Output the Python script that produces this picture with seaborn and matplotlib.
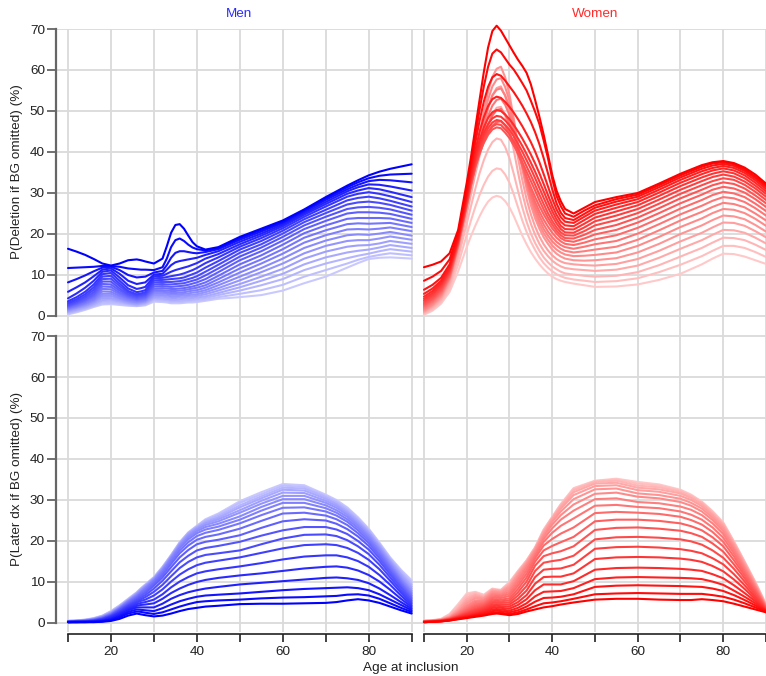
import numpy as np
import pandas as pd
import matplotlib
matplotlib.use("Agg")
import matplotlib.pyplot as plt
import seaborn as sns

sns.set_style("white")
plt.rcParams["font.family"] = ["Liberation Sans", "DejaVu Sans"]

n_curves = 20  # curve 0 = darkest ... curve 19 = lightest

# ---- Men, P(Deletion if BG omitted) (%): one row per age, one value per curve
men_deletion_ages = [10, 12, 14, 16, 18, 20, 22, 24, 26, 27, 28, 30, 32, 33, 34, 35, 36, 37,
                     38, 39, 40, 42, 45, 50, 55, 60, 65, 70, 75, 77.5, 80, 82.5, 85, 90]
men_deletion = [
    [16.4, 11.7, 8.2, 5.9, 4.3, 3.6, 3.2, 2.9, 2.6, 2.4, 2.2, 2.0, 1.8, 1.6, 1.4, 1.2, 1.0, 0.8, 0.6, 0.4],
    [15.7, 11.8, 9.0, 7.0, 5.5, 4.6, 4.1, 3.7, 3.4, 3.1, 2.9, 2.6, 2.4, 2.2, 2.0, 1.8, 1.5, 1.3, 1.1, 0.9],
    [14.9, 11.9, 9.9, 8.2, 6.9, 5.9, 5.3, 4.8, 4.4, 4.0, 3.7, 3.4, 3.1, 2.9, 2.6, 2.4, 2.1, 1.9, 1.7, 1.5],
    [13.9, 12.0, 10.9, 9.7, 8.6, 7.7, 7.0, 6.4, 5.8, 5.3, 4.9, 4.5, 4.1, 3.8, 3.5, 3.2, 2.9, 2.6, 2.4, 2.2],
    [12.8, 12.2, 11.8, 11.3, 10.8, 10.2, 9.6, 9.0, 8.4, 7.8, 7.2, 6.6, 6.0, 5.4, 4.9, 4.4, 3.9, 3.5, 3.1, 2.8],
    [12.3, 12.2, 12.0, 11.6, 11.1, 10.5, 9.8, 9.1, 8.4, 7.7, 7.1, 6.5, 5.9, 5.4, 4.9, 4.4, 4.0, 3.6, 3.2, 2.9],
    [12.8, 12.0, 11.2, 10.3, 9.4, 8.6, 7.9, 7.3, 6.7, 6.2, 5.7, 5.3, 4.9, 4.5, 4.2, 3.9, 3.6, 3.3, 3.0, 2.7],
    [13.6, 11.6, 10.0, 8.6, 7.5, 6.7, 6.1, 5.7, 5.3, 5.0, 4.7, 4.4, 4.1, 3.8, 3.6, 3.3, 3.1, 2.9, 2.7, 2.5],
    [13.8, 11.4, 9.4, 7.8, 6.6, 5.8, 5.3, 5.0, 4.7, 4.4, 4.1, 3.9, 3.7, 3.4, 3.2, 3.0, 2.8, 2.6, 2.5, 2.4],
    [13.6, 11.3, 9.5, 8.0, 6.8, 6.0, 5.5, 5.2, 4.9, 4.6, 4.3, 4.1, 3.8, 3.6, 3.4, 3.2, 3.0, 2.8, 2.6, 2.5],
    [13.3, 11.3, 9.6, 8.2, 7.1, 6.3, 5.8, 5.4, 5.1, 4.8, 4.5, 4.3, 4.0, 3.8, 3.6, 3.4, 3.2, 3.0, 2.8, 2.6],
    [12.8, 11.2, 10.6, 10.1, 9.7, 9.2, 8.7, 8.2, 7.7, 7.2, 6.7, 6.3, 5.9, 5.5, 5.1, 4.7, 4.4, 4.1, 3.8, 3.5],
    [14.0, 11.9, 11.0, 10.3, 9.8, 9.3, 8.8, 8.3, 7.8, 7.3, 6.8, 6.3, 5.9, 5.5, 5.1, 4.7, 4.3, 4.0, 3.7, 3.4],
    [17.0, 14.0, 12.4, 11.3, 10.3, 9.5, 8.9, 8.3, 7.7, 7.2, 6.7, 6.2, 5.8, 5.4, 5.0, 4.6, 4.2, 3.9, 3.6, 3.3],
    [20.3, 16.8, 14.2, 12.4, 10.8, 9.7, 9.0, 8.3, 7.7, 7.1, 6.6, 6.1, 5.6, 5.2, 4.8, 4.4, 4.0, 3.7, 3.4, 3.1],
    [22.2, 18.5, 15.4, 13.1, 11.2, 9.9, 9.1, 8.4, 7.8, 7.2, 6.6, 6.1, 5.6, 5.2, 4.8, 4.4, 4.0, 3.7, 3.4, 3.1],
    [22.4, 18.9, 15.8, 13.4, 11.5, 10.1, 9.2, 8.5, 7.9, 7.3, 6.7, 6.2, 5.7, 5.3, 4.9, 4.5, 4.1, 3.7, 3.4, 3.1],
    [21.3, 18.3, 15.8, 13.6, 11.8, 10.4, 9.4, 8.7, 8.0, 7.4, 6.8, 6.3, 5.8, 5.4, 5.0, 4.6, 4.2, 3.8, 3.5, 3.2],
    [19.6, 17.4, 15.6, 13.8, 12.1, 10.8, 9.8, 9.0, 8.3, 7.6, 7.0, 6.5, 6.0, 5.5, 5.1, 4.7, 4.3, 3.9, 3.6, 3.3],
    [18.0, 16.7, 15.4, 14.0, 12.5, 11.2, 10.2, 9.3, 8.6, 7.9, 7.2, 6.7, 6.2, 5.7, 5.2, 4.8, 4.4, 4.0, 3.7, 3.3],
    [17.0, 16.3, 15.3, 14.2, 12.9, 11.7, 10.6, 9.7, 8.9, 8.2, 7.5, 6.9, 6.3, 5.8, 5.3, 4.9, 4.5, 4.1, 3.7, 3.4],
    [16.2, 16.0, 15.6, 14.9, 14.0, 12.9, 11.8, 10.8, 9.9, 9.0, 8.2, 7.5, 6.9, 6.3, 5.8, 5.3, 4.8, 4.4, 4.0, 3.7],
    [16.8, 16.6, 16.3, 15.8, 15.1, 14.3, 13.4, 12.5, 11.6, 10.7, 9.8, 9.0, 8.2, 7.5, 6.8, 6.2, 5.6, 5.1, 4.6, 4.2],
    [19.3, 19.0, 18.6, 18.1, 17.5, 16.9, 16.2, 15.4, 14.5, 13.6, 12.6, 11.6, 10.6, 9.6, 8.7, 7.8, 7.0, 6.2, 5.4, 4.6],
    [21.3, 21.0, 20.6, 20.1, 19.6, 19.0, 18.3, 17.5, 16.7, 15.8, 14.8, 13.8, 12.8, 11.7, 10.7, 9.6, 8.6, 7.5, 6.3, 5.1],
    [23.3, 23.0, 22.7, 22.3, 21.9, 21.4, 20.8, 20.1, 19.3, 18.4, 17.4, 16.3, 15.2, 14.0, 12.8, 11.5, 10.3, 9.0, 7.6, 6.2],
    [26.0, 25.8, 25.5, 25.1, 24.7, 24.2, 23.6, 22.9, 22.1, 21.2, 20.2, 19.1, 17.9, 16.6, 15.3, 14.0, 12.6, 11.2, 9.6, 8.0],
    [29.0, 28.7, 28.3, 27.8, 27.3, 26.7, 25.9, 25.1, 24.2, 23.2, 22.1, 20.9, 19.7, 18.4, 17.1, 15.7, 14.3, 12.8, 11.2, 9.6],
    [31.8, 31.4, 30.9, 30.4, 29.8, 29.1, 28.2, 27.2, 26.1, 25.0, 23.7, 22.4, 21.1, 19.7, 18.3, 16.9, 15.5, 14.1, 12.8, 11.8],
    [33.1, 32.6, 32.0, 31.4, 30.6, 29.8, 28.8, 27.7, 26.5, 25.3, 23.9, 22.6, 21.2, 19.9, 18.5, 17.2, 15.9, 14.7, 13.7, 12.9],
    [34.3, 33.6, 32.9, 32.1, 31.2, 30.2, 29.1, 27.9, 26.6, 25.3, 23.9, 22.5, 21.1, 19.8, 18.5, 17.3, 16.2, 15.2, 14.4, 13.9],
    [35.2, 34.2, 33.2, 32.0, 30.9, 29.8, 28.7, 27.6, 26.4, 25.2, 23.9, 22.6, 21.3, 20.1, 18.9, 17.7, 16.7, 15.8, 14.9, 14.2],
    [35.9, 34.5, 33.1, 31.6, 30.3, 29.2, 28.1, 27.1, 26.0, 24.9, 23.8, 22.7, 21.6, 20.5, 19.4, 18.3, 17.3, 16.3, 15.3, 14.3],
    [37.0, 34.7, 32.6, 30.6, 29.0, 27.8, 26.7, 25.7, 24.7, 23.7, 22.7, 21.7, 20.7, 19.6, 18.6, 17.6, 16.6, 15.7, 14.8, 14.0],
]

# ---- Men, P(Later dx if BG omitted) (%): one row per age
later_ages = [10, 12, 14, 16, 18, 20, 22, 24, 26, 27, 28, 30, 32, 34, 36, 38, 40, 42, 45,
              50, 55, 60, 65, 70, 72.5, 75, 77.5, 80, 82.5, 85, 87.5, 90]
men_later = [
    [0.2, 0.2, 0.2, 0.2, 0.2, 0.3, 0.3, 0.3, 0.3, 0.3, 0.3, 0.3, 0.4, 0.4, 0.4, 0.4, 0.4, 0.5, 0.5, 0.5],
    [0.2, 0.2, 0.2, 0.3, 0.3, 0.3, 0.3, 0.3, 0.4, 0.4, 0.4, 0.4, 0.4, 0.5, 0.5, 0.5, 0.5, 0.6, 0.6, 0.6],
    [0.2, 0.2, 0.3, 0.3, 0.3, 0.3, 0.4, 0.4, 0.4, 0.5, 0.5, 0.5, 0.6, 0.6, 0.6, 0.7, 0.7, 0.7, 0.8, 0.8],
    [0.2, 0.3, 0.3, 0.4, 0.4, 0.5, 0.5, 0.6, 0.6, 0.7, 0.7, 0.8, 0.8, 0.9, 0.9, 1.0, 1.0, 1.1, 1.1, 1.2],
    [0.3, 0.4, 0.5, 0.6, 0.7, 0.8, 0.9, 1.0, 1.0, 1.1, 1.2, 1.3, 1.3, 1.4, 1.5, 1.5, 1.6, 1.7, 1.7, 1.8],
    [0.5, 0.7, 0.9, 1.1, 1.3, 1.5, 1.6, 1.7, 1.8, 1.9, 2.0, 2.1, 2.2, 2.3, 2.4, 2.5, 2.6, 2.7, 2.8, 2.9],
    [1.0, 1.4, 1.7, 2.0, 2.3, 2.5, 2.7, 2.9, 3.1, 3.2, 3.4, 3.5, 3.6, 3.7, 3.8, 3.9, 4.0, 4.1, 4.2, 4.3],
    [1.8, 2.3, 2.7, 3.1, 3.4, 3.7, 4.0, 4.2, 4.4, 4.6, 4.8, 5.0, 5.2, 5.3, 5.4, 5.5, 5.6, 5.7, 5.8, 5.9],
    [2.3, 2.8, 3.3, 3.8, 4.2, 4.6, 5.0, 5.3, 5.6, 5.9, 6.2, 6.4, 6.6, 6.8, 7.0, 7.1, 7.2, 7.3, 7.4, 7.5],
    [2.1, 2.7, 3.2, 3.8, 4.4, 4.9, 5.4, 5.8, 6.2, 6.6, 7.0, 7.3, 7.5, 7.7, 7.9, 8.1, 8.2, 8.3, 8.4, 8.5],
    [1.9, 2.5, 3.1, 3.8, 4.5, 5.1, 5.7, 6.3, 6.8, 7.3, 7.7, 8.1, 8.4, 8.6, 8.8, 9.0, 9.1, 9.2, 9.3, 9.4],
    [1.6, 2.2, 2.9, 3.8, 4.8, 5.7, 6.7, 7.6, 8.4, 9.1, 9.6, 10.0, 10.3, 10.5, 10.7, 10.8, 10.9, 11.0, 11.1, 11.2],
    [1.8, 2.6, 3.6, 4.7, 5.9, 7.0, 8.2, 9.3, 10.3, 11.1, 11.7, 12.2, 12.6, 12.9, 13.1, 13.3, 13.4, 13.5, 13.6, 13.7],
    [2.3, 3.3, 4.5, 5.9, 7.3, 8.7, 10.1, 11.4, 12.6, 13.6, 14.4, 15.0, 15.5, 15.8, 16.0, 16.2, 16.3, 16.4, 16.5, 16.6],
    [2.9, 4.0, 5.3, 6.8, 8.4, 10.1, 11.8, 13.4, 14.8, 16.0, 17.0, 17.7, 18.3, 18.7, 19.0, 19.2, 19.4, 19.5, 19.6, 19.7],
    [3.4, 4.6, 5.9, 7.5, 9.3, 11.2, 13.1, 14.9, 16.4, 17.8, 18.9, 19.7, 20.4, 20.9, 21.3, 21.6, 21.8, 21.9, 22.0, 22.1],
    [3.7, 5.1, 6.4, 8.0, 10.0, 12.1, 14.1, 16.0, 17.7, 19.2, 20.3, 21.2, 21.9, 22.4, 22.8, 23.1, 23.3, 23.5, 23.6, 23.7],
    [4.0, 5.3, 6.7, 8.4, 10.5, 12.6, 14.7, 16.6, 18.3, 19.8, 21.0, 22.0, 22.8, 23.4, 23.9, 24.3, 24.6, 24.9, 25.1, 25.3],
    [4.2, 5.5, 6.9, 8.8, 11.0, 13.1, 15.2, 17.0, 18.8, 20.3, 21.6, 22.7, 23.5, 24.2, 24.8, 25.3, 25.7, 26.1, 26.4, 26.7],
    [4.6, 5.7, 7.2, 9.4, 11.6, 13.8, 16.0, 17.7, 19.8, 21.4, 23.0, 24.3, 25.2, 26.0, 26.9, 27.5, 28.2, 28.7, 29.3, 29.7],
    [4.7, 6.0, 7.6, 9.8, 12.1, 14.6, 17.1, 19.2, 21.3, 23.2, 24.9, 26.3, 27.4, 28.3, 29.1, 29.8, 30.4, 30.9, 31.4, 31.9],
    [4.7, 6.2, 8.0, 10.2, 12.7, 15.5, 18.2, 20.6, 22.6, 24.8, 26.7, 28.1, 29.3, 30.2, 31.0, 31.8, 32.5, 33.0, 33.5, 33.9],
    [4.8, 6.3, 8.3, 10.6, 13.3, 16.2, 19.0, 21.5, 23.4, 25.3, 26.9, 28.2, 29.3, 30.2, 31.0, 31.7, 32.3, 32.8, 33.2, 33.6],
    [4.9, 6.5, 8.5, 11.0, 13.7, 16.5, 19.2, 21.6, 23.4, 25.0, 26.2, 27.2, 28.0, 28.7, 29.3, 29.8, 30.3, 30.7, 31.0, 31.3],
    [5.1, 6.6, 8.6, 11.1, 13.8, 16.5, 19.0, 21.2, 22.8, 24.2, 25.3, 26.2, 26.9, 27.5, 28.1, 28.6, 29.0, 29.4, 29.7, 30.0],
    [5.5, 6.9, 8.7, 10.9, 13.5, 16.0, 18.3, 20.2, 21.7, 22.9, 23.9, 24.7, 25.3, 25.9, 26.4, 26.8, 27.2, 27.6, 27.9, 28.2],
    [5.8, 7.0, 8.5, 10.5, 12.8, 15.1, 17.1, 18.7, 20.0, 21.1, 21.9, 22.6, 23.2, 23.7, 24.1, 24.5, 24.9, 25.2, 25.5, 25.8],
    [5.5, 6.7, 8.0, 9.7, 11.7, 13.7, 15.4, 16.8, 17.9, 18.8, 19.5, 20.1, 20.6, 21.1, 21.5, 21.9, 22.2, 22.5, 22.8, 23.0],
    [4.9, 5.9, 7.0, 8.4, 10.1, 11.7, 13.1, 14.2, 15.1, 15.8, 16.4, 16.9, 17.4, 17.8, 18.2, 18.6, 18.9, 19.2, 19.4, 19.6],
    [4.0, 4.8, 5.7, 6.8, 8.1, 9.3, 10.3, 11.1, 11.8, 12.4, 12.9, 13.4, 13.8, 14.2, 14.6, 15.0, 15.3, 15.6, 15.8, 16.0],
    [3.1, 3.7, 4.4, 5.1, 5.9, 6.7, 7.4, 8.0, 8.6, 9.0, 9.5, 9.9, 10.3, 10.7, 11.1, 11.6, 12.0, 12.4, 12.7, 13.0],
    [2.3, 2.7, 3.1, 3.5, 3.9, 4.3, 4.7, 5.1, 5.5, 5.9, 6.3, 6.7, 7.1, 7.5, 7.9, 8.4, 8.9, 9.4, 9.9, 10.4],
]

# ---- Women, P(Deletion if BG omitted) (%): one row per CURVE, one value per age
women_deletion_ages = [10, 12, 14, 16, 18, 20, 21, 22, 23, 24, 25, 26, 27, 28, 29, 30, 31, 32,
                       33, 34, 35, 36, 37, 38, 39, 40, 41, 42, 43, 45, 47.5, 50, 55, 60, 65,
                       70, 75, 77.5, 80, 82.5, 85, 87.5, 90]
women_deletion = [
    [11.9, 12.5, 13.3, 15.3, 21.0, 32.5, 38.8, 45.8, 52.7, 59.5, 65.5, 69.5, 70.8, 69.6, 67.8, 66.0, 64.2, 62.5, 61.0, 59.3, 56.5, 52.7, 48.6, 44.2, 39.4, 34.4, 30.6, 28.0, 26.1, 25.0, 26.4, 27.8, 29.0, 30.0, 32.3, 34.7, 36.8, 37.5, 37.8, 37.3, 36.2, 34.5, 32.3],
    [8.6, 9.6, 11.0, 13.8, 20.2, 31.0, 37.5, 44.0, 50.3, 56.0, 60.8, 64.0, 65.0, 64.3, 62.8, 61.3, 60.1, 58.5, 56.8, 55.0, 52.5, 49.8, 46.8, 42.8, 38.5, 33.5, 29.3, 26.8, 25.0, 24.2, 25.7, 27.0, 28.5, 29.6, 31.9, 34.3, 36.4, 37.2, 37.5, 37.0, 35.8, 34.0, 31.9],
    [6.4, 7.6, 9.3, 12.6, 19.5, 30.0, 36.2, 42.2, 47.6, 52.3, 55.9, 58.2, 59.0, 58.6, 57.4, 56.0, 54.6, 53.0, 51.3, 49.4, 47.3, 44.8, 41.9, 38.5, 34.8, 30.9, 27.5, 25.2, 23.9, 23.4, 24.9, 26.4, 27.9, 29.1, 31.4, 33.8, 35.9, 36.7, 37.1, 36.6, 35.4, 33.6, 31.5],
    [5.4, 6.7, 8.6, 12.0, 19.0, 29.3, 35.0, 40.3, 44.9, 48.5, 51.2, 52.9, 53.5, 53.2, 52.2, 51.0, 49.6, 48.0, 46.3, 44.4, 42.4, 40.1, 37.5, 34.6, 31.6, 28.6, 26.0, 24.1, 23.0, 22.7, 24.2, 25.7, 27.2, 28.5, 30.8, 33.2, 35.3, 36.1, 36.6, 36.1, 34.9, 33.1, 31.0],
    [4.7, 6.1, 8.1, 11.6, 18.7, 28.8, 34.2, 39.0, 42.9, 46.0, 48.3, 49.7, 50.2, 50.0, 49.1, 48.0, 46.6, 45.0, 43.3, 41.4, 39.4, 37.2, 34.8, 32.2, 29.5, 26.9, 24.7, 23.0, 22.1, 21.9, 23.4, 24.9, 26.4, 27.8, 30.1, 32.5, 34.6, 35.5, 36.0, 35.5, 34.3, 32.5, 30.4],
    [4.2, 5.6, 7.7, 11.3, 18.5, 28.4, 33.7, 38.2, 41.8, 44.7, 46.8, 48.2, 48.8, 48.6, 47.7, 46.5, 45.0, 43.3, 41.5, 39.5, 37.4, 35.2, 32.8, 30.4, 27.9, 25.6, 23.6, 22.0, 21.2, 21.1, 22.5, 24.0, 25.5, 27.0, 29.3, 31.7, 33.8, 34.7, 35.3, 34.8, 33.6, 31.8, 29.8],
    [3.8, 5.2, 7.3, 11.0, 18.3, 28.1, 33.2, 37.6, 41.0, 43.8, 45.8, 47.2, 47.8, 47.6, 46.6, 45.4, 43.8, 42.0, 40.1, 38.0, 35.9, 33.6, 31.2, 28.8, 26.5, 24.4, 22.6, 21.2, 20.4, 20.3, 21.6, 23.1, 24.5, 26.1, 28.4, 30.8, 32.9, 33.9, 34.5, 34.0, 32.8, 31.1, 29.1],
    [3.4, 4.8, 6.9, 10.7, 18.1, 27.8, 32.8, 37.0, 40.3, 42.9, 44.9, 46.2, 46.8, 46.6, 45.5, 44.3, 42.6, 40.8, 38.7, 36.5, 34.3, 32.0, 29.6, 27.3, 25.1, 23.2, 21.6, 20.4, 19.7, 19.6, 20.7, 22.1, 23.4, 25.1, 27.4, 29.8, 31.9, 32.9, 33.6, 33.2, 32.0, 30.3, 28.3],
    [3.0, 4.4, 6.5, 10.4, 17.9, 27.5, 32.4, 36.5, 39.7, 42.2, 44.2, 45.5, 46.0, 45.8, 44.7, 43.4, 41.6, 39.7, 37.5, 35.2, 32.9, 30.6, 28.2, 26.0, 24.0, 22.3, 20.8, 19.7, 19.0, 18.9, 19.8, 21.0, 22.2, 24.0, 26.3, 28.7, 30.8, 31.9, 32.6, 32.2, 31.1, 29.4, 27.5],
    [2.7, 4.1, 6.2, 10.1, 17.7, 27.2, 32.0, 36.2, 39.6, 42.5, 44.8, 46.4, 47.3, 47.5, 46.4, 44.5, 42.2, 39.5, 36.8, 34.0, 31.4, 29.0, 26.8, 24.8, 23.0, 21.4, 20.1, 19.0, 18.4, 18.1, 18.9, 19.9, 21.0, 22.8, 25.1, 27.5, 29.6, 30.8, 31.5, 31.1, 30.1, 28.5, 26.6],
    [2.4, 3.8, 5.9, 9.8, 17.5, 27.0, 31.9, 36.5, 40.4, 44.0, 46.8, 48.9, 50.2, 50.5, 49.2, 47.0, 44.0, 40.5, 36.9, 33.5, 30.4, 27.8, 25.5, 23.5, 21.8, 20.3, 19.1, 18.2, 17.6, 17.3, 17.9, 18.7, 19.7, 21.5, 23.8, 26.2, 28.3, 29.5, 30.3, 29.9, 29.0, 27.4, 25.6],
    [2.1, 3.5, 5.6, 9.6, 17.3, 27.0, 32.0, 37.0, 41.5, 45.5, 48.8, 51.3, 52.7, 53.0, 51.5, 49.0, 45.3, 41.0, 36.8, 32.9, 29.6, 26.8, 24.4, 22.3, 20.6, 19.2, 18.1, 17.3, 16.8, 16.4, 16.9, 17.5, 18.3, 20.1, 22.4, 24.8, 26.9, 28.1, 29.0, 28.7, 27.8, 26.3, 24.5],
    [1.8, 3.2, 5.3, 9.4, 17.2, 27.0, 32.2, 37.5, 42.5, 47.0, 50.9, 53.8, 55.2, 55.5, 53.8, 51.0, 46.8, 41.5, 36.7, 32.4, 28.8, 25.8, 23.3, 21.2, 19.6, 18.2, 17.2, 16.4, 15.9, 15.5, 15.8, 16.2, 16.9, 18.6, 20.9, 23.3, 25.4, 26.6, 27.6, 27.3, 26.5, 25.0, 23.3],
    [1.5, 2.9, 5.0, 9.2, 17.1, 27.0, 32.4, 38.0, 43.5, 48.5, 52.8, 56.0, 57.7, 58.0, 55.8, 52.5, 47.5, 41.5, 36.3, 31.8, 28.0, 24.8, 22.3, 20.2, 18.6, 17.2, 16.2, 15.5, 15.0, 14.6, 14.7, 14.9, 15.5, 17.1, 19.3, 21.7, 23.8, 25.1, 26.1, 25.9, 25.1, 23.7, 22.0],
    [1.3, 2.7, 4.8, 9.0, 17.0, 27.0, 32.6, 38.5, 44.5, 50.0, 54.8, 58.3, 60.3, 60.8, 58.2, 54.0, 48.2, 41.5, 35.8, 31.0, 27.0, 23.8, 21.3, 19.2, 17.6, 16.2, 15.2, 14.5, 14.0, 13.6, 13.5, 13.6, 14.1, 15.5, 17.6, 20.0, 22.1, 23.4, 24.5, 24.3, 23.6, 22.2, 20.6],
    [1.1, 2.5, 4.5, 8.6, 16.4, 26.0, 31.2, 36.5, 41.8, 46.5, 50.7, 53.8, 55.6, 56.0, 53.6, 50.0, 44.5, 38.5, 33.2, 28.5, 24.8, 21.8, 19.4, 17.5, 16.0, 14.8, 13.9, 13.3, 12.9, 12.6, 12.4, 12.3, 12.7, 13.9, 15.9, 18.2, 20.3, 21.6, 22.8, 22.7, 22.0, 20.7, 19.2],
    [0.9, 2.2, 4.2, 8.1, 15.5, 24.8, 29.7, 34.6, 39.0, 43.0, 46.5, 49.3, 50.8, 51.0, 48.8, 45.5, 40.5, 35.0, 30.0, 25.8, 22.5, 19.8, 17.6, 15.9, 14.6, 13.5, 12.7, 12.1, 11.7, 11.4, 11.2, 11.0, 11.3, 12.3, 14.2, 16.4, 18.5, 19.8, 21.0, 20.9, 20.3, 19.1, 17.7],
    [0.7, 1.9, 3.8, 7.4, 14.2, 22.5, 26.8, 31.0, 34.8, 38.0, 40.6, 42.4, 43.3, 43.0, 41.2, 38.5, 34.7, 30.5, 26.5, 23.0, 20.1, 17.8, 15.9, 14.3, 13.1, 12.1, 11.4, 10.8, 10.4, 10.1, 9.8, 9.6, 9.8, 10.7, 12.4, 14.5, 16.6, 17.9, 19.1, 19.0, 18.5, 17.4, 16.1],
    [0.5, 1.6, 3.4, 6.6, 12.6, 19.8, 23.3, 26.6, 29.5, 32.0, 34.0, 35.4, 36.0, 35.8, 34.5, 32.5, 29.7, 26.5, 23.3, 20.5, 18.1, 16.1, 14.3, 12.9, 11.8, 10.9, 10.2, 9.7, 9.3, 8.9, 8.6, 8.3, 8.5, 9.2, 10.7, 12.5, 14.6, 15.9, 17.1, 17.1, 16.6, 15.6, 14.4],
    [0.3, 1.3, 3.0, 5.9, 10.9, 16.8, 19.5, 22.0, 24.3, 26.3, 27.9, 28.9, 29.3, 29.0, 28.0, 26.5, 24.4, 22.0, 19.6, 17.5, 15.6, 14.0, 12.6, 11.4, 10.4, 9.6, 9.0, 8.6, 8.3, 7.9, 7.5, 7.1, 7.2, 7.7, 8.8, 10.3, 12.6, 14.0, 15.2, 15.1, 14.5, 13.6, 12.7],
]

# ---- Women, P(Later dx if BG omitted) (%): one row per age (same ages as men_later)
women_later = [
    [0.2, 0.2, 0.2, 0.2, 0.3, 0.3, 0.3, 0.3, 0.3, 0.3, 0.4, 0.4, 0.4, 0.4, 0.4, 0.5, 0.5, 0.5, 0.5, 0.5],
    [0.3, 0.3, 0.3, 0.3, 0.3, 0.4, 0.4, 0.4, 0.4, 0.4, 0.5, 0.5, 0.5, 0.5, 0.5, 0.6, 0.6, 0.6, 0.6, 0.7],
    [0.4, 0.4, 0.4, 0.5, 0.5, 0.5, 0.5, 0.6, 0.6, 0.6, 0.6, 0.7, 0.7, 0.7, 0.8, 0.8, 0.8, 0.9, 0.9, 1.0],
    [0.6, 0.6, 0.7, 0.7, 0.8, 0.8, 0.9, 0.9, 1.0, 1.0, 1.1, 1.2, 1.2, 1.3, 1.4, 1.5, 1.6, 1.8, 2.0, 2.2],
    [0.9, 1.0, 1.1, 1.2, 1.3, 1.4, 1.5, 1.6, 1.7, 1.8, 2.0, 2.2, 2.4, 2.6, 2.8, 3.1, 3.4, 3.8, 4.2, 4.6],
    [1.2, 1.3, 1.5, 1.6, 1.8, 2.0, 2.2, 2.4, 2.6, 2.9, 3.2, 3.5, 3.9, 4.3, 4.8, 5.3, 5.8, 6.3, 6.8, 7.2],
    [1.5, 1.7, 1.9, 2.1, 2.3, 2.6, 2.9, 3.2, 3.5, 3.9, 4.3, 4.7, 5.1, 5.5, 6.0, 6.4, 6.8, 7.1, 7.4, 7.6],
    [1.8, 2.0, 2.3, 2.6, 2.9, 3.2, 3.5, 3.8, 4.1, 4.4, 4.7, 5.0, 5.3, 5.6, 5.9, 6.1, 6.3, 6.5, 6.7, 6.9],
    [2.2, 2.5, 2.9, 3.3, 3.7, 4.1, 4.5, 4.9, 5.3, 5.7, 6.1, 6.5, 6.9, 7.2, 7.5, 7.8, 8.0, 8.2, 8.3, 8.4],
    [2.3, 2.6, 3.0, 3.4, 3.8, 4.2, 4.6, 5.0, 5.4, 5.8, 6.2, 6.6, 6.9, 7.2, 7.5, 7.7, 7.9, 8.0, 8.1, 8.2],
    [2.2, 2.5, 2.9, 3.3, 3.7, 4.1, 4.5, 4.9, 5.3, 5.7, 6.1, 6.5, 6.8, 7.1, 7.4, 7.6, 7.8, 7.9, 8.0, 8.1],
    [1.9, 2.2, 2.6, 3.0, 3.5, 4.0, 4.5, 5.0, 5.5, 6.0, 6.6, 7.1, 7.6, 8.1, 8.6, 9.0, 9.3, 9.6, 9.8, 10.0],
    [2.2, 2.6, 3.1, 3.7, 4.4, 5.1, 5.9, 6.7, 7.5, 8.3, 9.1, 9.8, 10.5, 11.1, 11.6, 12.0, 12.3, 12.5, 12.6, 12.7],
    [2.8, 3.3, 4.0, 4.8, 5.8, 6.8, 7.9, 9.0, 10.1, 11.1, 12.0, 12.8, 13.5, 14.0, 14.4, 14.7, 14.9, 15.1, 15.2, 15.3],
    [3.3, 4.1, 5.2, 6.5, 8.0, 9.6, 11.2, 12.7, 14.0, 15.0, 15.8, 16.4, 16.9, 17.4, 17.8, 18.0, 18.2, 18.3, 18.4, 18.5],
    [3.8, 4.8, 6.1, 7.6, 9.4, 11.2, 13.0, 14.7, 16.3, 17.7, 18.9, 19.8, 20.5, 21.1, 21.6, 22.0, 22.3, 22.5, 22.7, 22.8],
    [4.1, 5.0, 6.2, 7.7, 9.4, 11.3, 13.2, 15.1, 17.0, 18.8, 20.5, 22.0, 23.1, 24.0, 24.7, 25.2, 25.5, 25.7, 25.8, 25.9],
    [4.5, 5.3, 6.4, 7.8, 9.4, 11.3, 13.3, 15.4, 17.5, 19.7, 21.8, 23.7, 25.2, 26.3, 27.2, 27.9, 28.4, 28.7, 28.9, 29.0],
    [5.0, 5.9, 7.0, 8.5, 10.2, 12.1, 14.2, 16.4, 18.7, 21.0, 23.3, 25.5, 27.4, 28.9, 30.2, 31.2, 31.9, 32.4, 32.7, 32.9],
    [5.7, 7.0, 8.8, 10.7, 13.0, 15.6, 18.1, 20.4, 22.7, 24.8, 26.8, 28.6, 30.2, 31.5, 32.6, 33.4, 34.0, 34.4, 34.6, 34.7],
    [5.9, 7.2, 9.1, 11.1, 13.4, 16.0, 18.5, 20.9, 23.2, 25.2, 27.1, 28.8, 30.4, 31.8, 32.8, 33.6, 34.2, 34.7, 35.0, 35.2],
    [5.9, 7.3, 9.2, 11.2, 13.5, 16.1, 18.6, 21.0, 23.3, 25.2, 26.9, 28.3, 29.5, 30.8, 31.6, 32.4, 33.0, 33.5, 34.0, 34.4],
    [5.7, 7.2, 9.1, 11.1, 13.4, 16.0, 18.4, 20.8, 23.0, 24.9, 26.6, 28.0, 29.2, 30.4, 31.2, 32.0, 32.6, 33.1, 33.5, 33.8],
    [5.6, 7.1, 9.0, 11.0, 13.2, 15.7, 18.0, 20.4, 22.5, 24.3, 25.9, 27.2, 28.4, 29.5, 30.3, 31.0, 31.6, 32.0, 32.3, 32.5],
    [5.6, 7.1, 8.9, 10.9, 13.0, 15.4, 17.6, 19.9, 21.9, 23.6, 25.1, 26.4, 27.6, 28.6, 29.3, 30.0, 30.5, 30.9, 31.1, 31.3],
    [5.8, 7.1, 8.8, 10.7, 12.7, 14.9, 17.0, 19.1, 21.0, 22.6, 24.0, 25.2, 26.3, 27.2, 27.9, 28.5, 29.0, 29.3, 29.5, 29.6],
    [5.6, 6.8, 8.4, 10.1, 11.9, 13.9, 15.8, 17.7, 19.4, 20.9, 22.2, 23.3, 24.3, 25.1, 25.7, 26.2, 26.6, 26.9, 27.1, 27.3],
    [5.3, 6.4, 7.8, 9.3, 10.9, 12.6, 14.3, 15.9, 17.4, 18.7, 19.8, 20.8, 21.7, 22.4, 23.0, 23.5, 23.9, 24.2, 24.4, 24.5],
    [4.7, 5.7, 6.8, 7.9, 9.2, 10.6, 11.9, 13.2, 14.3, 15.3, 16.2, 17.0, 17.7, 18.2, 18.7, 19.1, 19.4, 19.6, 19.8, 19.9],
    [4.0, 4.8, 5.6, 6.4, 7.3, 8.3, 9.2, 10.1, 10.9, 11.6, 12.2, 12.7, 13.2, 13.6, 14.0, 14.3, 14.6, 14.8, 14.9, 15.0],
    [3.3, 3.8, 4.3, 4.8, 5.3, 5.8, 6.3, 6.8, 7.3, 7.7, 8.1, 8.4, 8.7, 9.0, 9.2, 9.4, 9.6, 9.8, 9.9, 10.0],
    [2.6, 2.8, 2.9, 3.0, 3.1, 3.2, 3.3, 3.4, 3.5, 3.6, 3.7, 3.8, 3.9, 4.0, 4.1, 4.2, 4.3, 4.4, 4.5, 4.6],
]


def to_long(values, ages, by_age, sex, measure):
    arr = np.array(values)
    if by_age:
        arr = arr.T  # -> one row per curve
    recs = []
    for k in range(n_curves):
        for i, a in enumerate(ages):
            recs.append({"age": a, "value": arr[k, i], "curve": k,
                         "sex": sex, "measure": measure})
    return pd.DataFrame(recs)


df = pd.concat([
    to_long(men_deletion, men_deletion_ages, True, "Men", "deletion"),
    to_long(men_later, later_ages, True, "Men", "later"),
    to_long(women_deletion, women_deletion_ages, False, "Women", "deletion"),
    to_long(women_later, later_ages, True, "Women", "later"),
], ignore_index=True)

blues = sns.blend_palette(["#0000ff", "#c9c9ff"], n_curves)
reds = sns.blend_palette(["#ff0000", "#ffc9c9"], n_curves)
palettes = {"Men": dict(enumerate(blues)), "Women": dict(enumerate(reds))}
draw_order = list(range(n_curves - 1, -1, -1))  # light first, dark on top

W, H = 766, 676
fig = plt.figure(figsize=(W / 100, H / 100), dpi=100)

cols = {"Men": (56, 417.5, (7.207, 91.36)),
        "Women": (417.5, 766, (8.487, 89.61))}
rows = {"deletion": (29, 326, (-2.44, 70)),
        "later": (326, 632, (-2.2, 72.44))}

fs = 9.7
grid_c = "#dadada"
for sex, (x0, x1, xl) in cols.items():
    for measure, (y0, y1, yl) in rows.items():
        ax = fig.add_axes([x0 / W, 1 - y1 / H, (x1 - x0) / W, (y1 - y0) / H])
        sub = df[(df.sex == sex) & (df.measure == measure)]
        sns.lineplot(data=sub, x="age", y="value", hue="curve",
                     hue_order=draw_order, palette=palettes[sex],
                     estimator=None, legend=False, linewidth=1.5, ax=ax)
        for ln in ax.lines:
            ln.set_clip_on(False)
            ln.set_solid_joinstyle("round")
        ax.set_xlim(*xl)
        ax.set_ylim(*yl)
        ax.set_xticks(range(10, 91, 10))
        ax.set_yticks(range(0, 71, 10))
        ax.grid(True, color=grid_c, linewidth=1.3)
        ax.set_axisbelow(True)
        ax.set_xlabel("")
        ax.set_ylabel("")
        for s in ax.spines.values():
            s.set_visible(False)

        if sex == "Men":
            sp = ax.spines["left"]
            sp.set_visible(True)
            sp.set_bounds(0, 70)
            sp.set_color("#666666")
            sp.set_linewidth(1.6)
            ax.tick_params(axis="y", direction="out", length=6.5, width=1.3,
                           color="#666666", labelsize=fs, labelcolor="#222222",
                           pad=1.5, left=True)
        else:
            ax.tick_params(axis="y", length=0, labelleft=False)

        if measure == "later":
            sp = ax.spines["bottom"]
            sp.set_visible(True)
            sp.set_position(("outward", 1.5))
            sp.set_bounds(10, 90)
            sp.set_color("#222222")
            sp.set_linewidth(1.2)
            ax.set_xticklabels(["", "20", "", "40", "", "60", "", "80", ""])
            ax.tick_params(axis="x", direction="out", length=6, width=1.2,
                           color="#222222", labelsize=fs, labelcolor="#222222",
                           pad=2.5, bottom=True)
        else:
            ax.tick_params(axis="x", length=0, labelbottom=False)

fig.text(239.5 / W, 1 - 14 / H, "Men", color="#2b2bff", fontsize=fs,
         ha="center", va="center")
fig.text(595.5 / W, 1 - 14 / H, "Women", color="#ff2b2b", fontsize=fs,
         ha="center", va="center")
fig.text(17 / W, 1 - 172 / H, "P(Deletion if BG omitted) (%)", rotation=90,
         fontsize=fs, color="#222222", ha="center", va="center")
fig.text(17 / W, 1 - 479 / H, "P(Later dx if BG omitted) (%)", rotation=90,
         fontsize=fs, color="#222222", ha="center", va="center")
fig.text(411 / W, 1 - 668 / H, "Age at inclusion", fontsize=fs,
         color="#222222", ha="center", va="center")

fig.savefig("out.png", dpi=100)
